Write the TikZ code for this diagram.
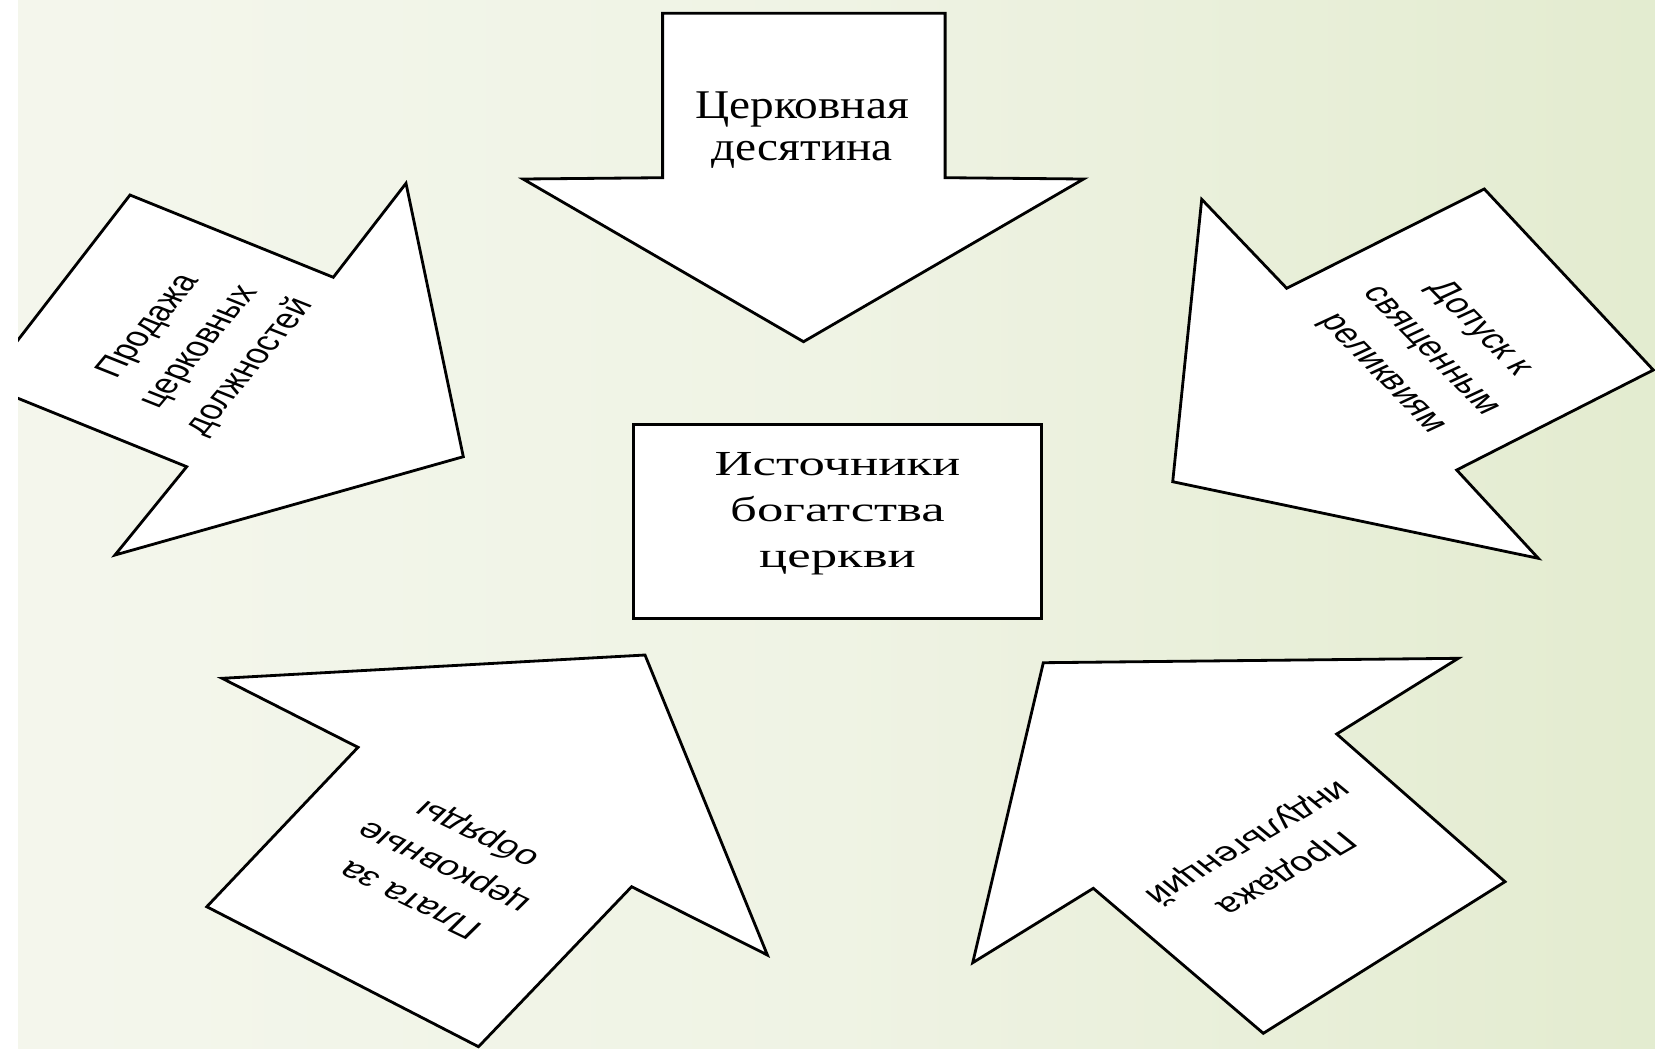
\documentclass[tikz,border=0pt]{standalone}
\usepackage{fontspec}
\setmainfont{Liberation Serif}
\setsansfont{Liberation Sans}
\newfontfamily\headfont[FakeStretch=1.16]{Liberation Serif}
\newfontfamily\boxfont[FakeStretch=1.5]{Liberation Serif}
\definecolor{bgleft}{RGB}{249,250,245}
\definecolor{bgmid}{RGB}{239,243,228}
\definecolor{bgright}{RGB}{215,228,187}
\pgfdeclarehorizontalshading{slidebg}{100bp}{color(0bp)=(bgleft); color(50bp)=(bgmid); color(100bp)=(bgright)}
\begin{document}
\begin{tikzpicture}[x=0.01cm,y=-0.01cm,
  arrowbox/.style={draw,fill=white,line width=0.8pt,line join=miter},
  sidetext/.style={font=\sffamily\fontsize{7.8}{11.4}\selectfont,align=center,inner sep=0pt,xscale=1.45}]
\useasboundingbox (0,0) rectangle (1655,1048);
\fill[white] (0,0) rectangle (1655,1048);
\shade[shading=slidebg] (18,0) rectangle (1655,1048);
\begin{scope}
\clip (18,0) rectangle (1655,1048);
\draw[arrowbox] (-16.3,384.4) -- (130,195) -- (333.3,277.3) -- (406,183.3) -- (463.3,456.7) -- (115,555) -- (186.7,466.7) -- cycle;
\end{scope}
\draw[arrowbox] (662.6,13.3) -- (945.1,13.3) -- (945.1,177.7) -- (1083.6,179) -- (803.5,341.7) -- (523,179) -- (662.6,177.7) -- cycle;
\draw[arrowbox] (1201.7,199.3) -- (1286.7,288.3) -- (1484.3,189) -- (1653.3,370) -- (1456.7,470) -- (1538.3,558.3) -- (1172.7,481.7) -- cycle;
\draw[arrowbox] (222.1,678.3) -- (645,655) -- (767.4,955) -- (631.6,886.7) -- (478.5,1046.7) -- (206.8,906.7) -- (358,747.3) -- cycle;
\draw[arrowbox] (1043.3,662.7) -- (1458.3,658.3) -- (1336.7,734) -- (1505,881.7) -- (1263.3,1033.3) -- (1093.3,888.3) -- (972.7,962.7) -- cycle;
\node[font=\headfont\fontsize{11.6}{11.8}\selectfont,align=center,inner sep=0pt] (tithe) at (802,130) {Церковная\\десятина};
\node[draw,fill=white,line width=0.8pt,minimum width=4.08cm,minimum height=1.94cm,font=\boxfont\fontsize{10}{13.1}\selectfont,align=center] (sources) at (837.5,521.2) {Источники\\богатства\\церкви\rule[-6.6pt]{0pt}{6.6pt}};
\node[sidetext,rotate=60] (offices) at (200,347) {Продажа\\церковных\\должностей};
\node[sidetext,rotate=-56] (relics) at (1431,351) {Допуск к\\священным\\реликвиям};
\node[sidetext,rotate=145] (rites) at (445,866) {Плата за\\церковные\\обряды};
\node[sidetext,rotate=220] (indulg) at (1266,857) {Продажа\\индульгенций};
\end{tikzpicture}
\end{document}
